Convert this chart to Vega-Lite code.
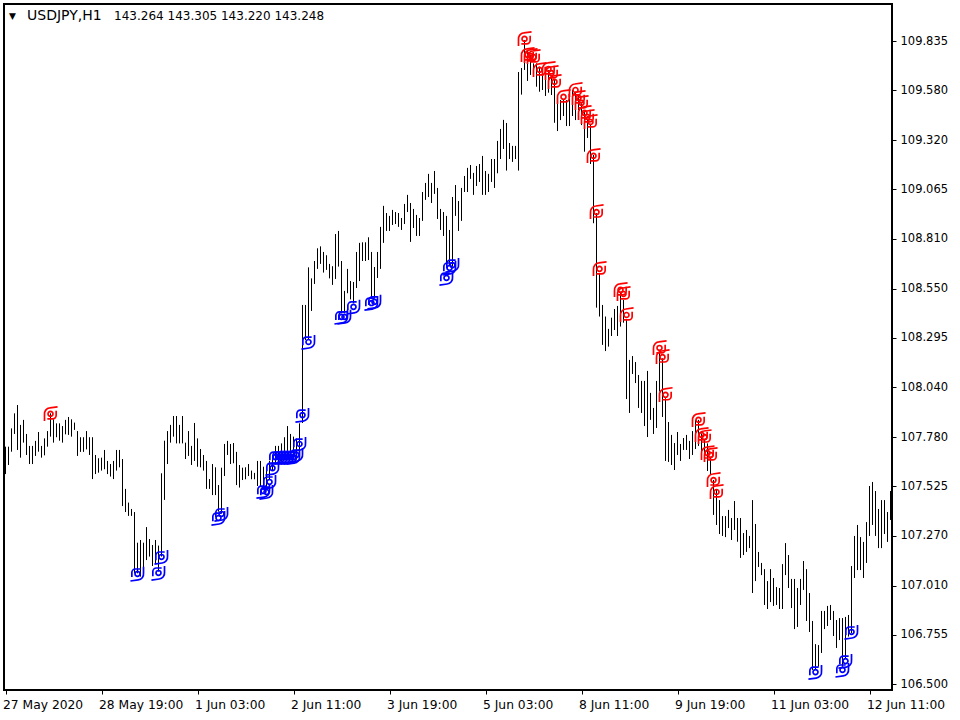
{"$schema":"https://vega.github.io/schema/vega-lite/v6.json","width":888,"height":686,"autosize":{"type":"none"},"padding":{"left":4,"top":4,"right":68,"bottom":30},"background":"#ffffff","config":{"view":{"stroke":"#000000","strokeWidth":2},"axis":{"grid":false,"domain":false,"tickColor":"#000000","tickSize":4,"tickWidth":1,"labelColor":"#000000","labelFont":"DejaVu Sans","labelFontSize":11.5,"title":null}},"datasets":{"bars":[
{"bar":0,"low":107.589,"high":107.731},{"bar":1,"low":107.636,"high":107.731},{"bar":2,"low":107.705,"high":107.826},{"bar":3,"low":107.797,"high":107.904},{"bar":4,"low":107.714,"high":107.947},{"bar":5,"low":107.674,"high":107.844},{"bar":6,"low":107.752,"high":107.87},{"bar":7,"low":107.688,"high":107.797},{"bar":8,"low":107.641,"high":107.735},{"bar":9,"low":107.641,"high":107.735},
{"bar":10,"low":107.683,"high":107.761},{"bar":11,"low":107.705,"high":107.807},{"bar":12,"low":107.674,"high":107.735},{"bar":13,"low":107.686,"high":107.774},{"bar":14,"low":107.731,"high":107.812},{"bar":15,"low":107.783,"high":107.904},{"bar":16,"low":107.752,"high":107.873},{"bar":17,"low":107.78,"high":107.852},{"bar":18,"low":107.762,"high":107.852},{"bar":19,"low":107.752,"high":107.838},
{"bar":20,"low":107.795,"high":107.87},{"bar":21,"low":107.792,"high":107.885},{"bar":22,"low":107.783,"high":107.873},{"bar":23,"low":107.818,"high":107.856},{"bar":24,"low":107.683,"high":107.812},{"bar":25,"low":107.704,"high":107.78},{"bar":26,"low":107.704,"high":107.78},{"bar":27,"low":107.717,"high":107.812},{"bar":28,"low":107.688,"high":107.78},{"bar":29,"low":107.563,"high":107.78},
{"bar":30,"low":107.589,"high":107.688},{"bar":31,"low":107.596,"high":107.671},{"bar":32,"low":107.607,"high":107.674},{"bar":33,"low":107.614,"high":107.714},{"bar":34,"low":107.589,"high":107.657},{"bar":35,"low":107.576,"high":107.641},{"bar":36,"low":107.563,"high":107.657},{"bar":37,"low":107.607,"high":107.714},{"bar":38,"low":107.624,"high":107.714},{"bar":39,"low":107.423,"high":107.667},
{"bar":40,"low":107.392,"high":107.512},{"bar":41,"low":107.372,"high":107.441},{"bar":42,"low":107.372,"high":107.408},{"bar":43,"low":107.074,"high":107.392},{"bar":44,"low":107.074,"high":107.233},{"bar":45,"low":107.057,"high":107.247},{"bar":46,"low":107.091,"high":107.233},{"bar":47,"low":107.143,"high":107.314},{"bar":48,"low":107.161,"high":107.252},{"bar":49,"low":107.112,"high":107.221},
{"bar":50,"low":107.123,"high":107.247},{"bar":51,"low":107.083,"high":107.218},{"bar":52,"low":107.161,"high":107.593},{"bar":53,"low":107.455,"high":107.762},{"bar":54,"low":107.641,"high":107.812},{"bar":55,"low":107.752,"high":107.844},{"bar":56,"low":107.783,"high":107.89},{"bar":57,"low":107.748,"high":107.89},{"bar":58,"low":107.748,"high":107.844},{"bar":59,"low":107.748,"high":107.89},
{"bar":60,"low":107.667,"high":107.752},{"bar":61,"low":107.683,"high":107.812},{"bar":62,"low":107.636,"high":107.735},{"bar":63,"low":107.657,"high":107.854},{"bar":64,"low":107.627,"high":107.774},{"bar":65,"low":107.624,"high":107.719},{"bar":66,"low":107.607,"high":107.688},{"bar":67,"low":107.512,"high":107.657},{"bar":68,"low":107.512,"high":107.563},{"bar":69,"low":107.48,"high":107.641},
{"bar":70,"low":107.48,"high":107.624},{"bar":71,"low":107.394,"high":107.532},{"bar":72,"low":107.385,"high":107.622},{"bar":73,"low":107.579,"high":107.745},{"bar":74,"low":107.688,"high":107.761},{"bar":75,"low":107.641,"high":107.745},{"bar":76,"low":107.645,"high":107.75},{"bar":77,"low":107.532,"high":107.704},{"bar":78,"low":107.519,"high":107.636},{"bar":79,"low":107.558,"high":107.622},
{"bar":80,"low":107.562,"high":107.624},{"bar":81,"low":107.579,"high":107.641},{"bar":82,"low":107.562,"high":107.607},{"bar":83,"low":107.562,"high":107.595},{"bar":84,"low":107.527,"high":107.657},{"bar":85,"low":107.524,"high":107.657},{"bar":86,"low":107.515,"high":107.627},{"bar":87,"low":107.506,"high":107.627},{"bar":88,"low":107.558,"high":107.657},{"bar":89,"low":107.61,"high":107.688},
{"bar":90,"low":107.645,"high":107.735},{"bar":91,"low":107.653,"high":107.735},{"bar":92,"low":107.653,"high":107.748},{"bar":93,"low":107.671,"high":107.78},{"bar":94,"low":107.705,"high":107.838},{"bar":95,"low":107.671,"high":107.797},{"bar":96,"low":107.671,"high":107.783},{"bar":97,"low":107.679,"high":107.774},{"bar":98,"low":107.662,"high":107.852},{"bar":99,"low":107.854,"high":108.466},
{"bar":100,"low":108.284,"high":108.466},{"bar":101,"low":108.284,"high":108.661},{"bar":102,"low":108.435,"high":108.604},{"bar":103,"low":108.575,"high":108.694},{"bar":104,"low":108.653,"high":108.76},{"bar":105,"low":108.679,"high":108.77},{"bar":106,"low":108.634,"high":108.741},{"bar":107,"low":108.648,"high":108.724},{"bar":108,"low":108.604,"high":108.679},{"bar":109,"low":108.57,"high":108.667},
{"bar":110,"low":108.601,"high":108.834},{"bar":111,"low":108.665,"high":108.85},{"bar":112,"low":108.423,"high":108.694},{"bar":113,"low":108.423,"high":108.539},{"bar":114,"low":108.527,"high":108.653},{"bar":115,"low":108.495,"high":108.59},{"bar":116,"low":108.475,"high":108.585},{"bar":117,"low":108.554,"high":108.741},{"bar":118,"low":108.59,"high":108.788},{"bar":119,"low":108.694,"high":108.791},
{"bar":120,"low":108.694,"high":108.791},{"bar":121,"low":108.699,"high":108.817},{"bar":122,"low":108.501,"high":108.741},{"bar":123,"low":108.501,"high":108.663},{"bar":124,"low":108.606,"high":108.741},{"bar":125,"low":108.653,"high":108.871},{"bar":126,"low":108.788,"high":108.98},{"bar":127,"low":108.85,"high":108.943},{"bar":128,"low":108.85,"high":108.928},{"bar":129,"low":108.881,"high":108.959},
{"bar":130,"low":108.886,"high":108.948},{"bar":131,"low":108.871,"high":108.943},{"bar":132,"low":108.855,"high":108.917},{"bar":133,"low":108.886,"high":108.99},{"bar":134,"low":108.948,"high":109.037},{"bar":135,"low":108.793,"high":108.995},{"bar":136,"low":108.865,"high":108.964},{"bar":137,"low":108.824,"high":108.933},{"bar":138,"low":108.824,"high":108.917},{"bar":139,"low":108.902,"high":109.052},
{"bar":140,"low":109.011,"high":109.099},{"bar":141,"low":109.026,"high":109.146},{"bar":142,"low":108.995,"high":109.099},{"bar":143,"low":109.042,"high":109.161},{"bar":144,"low":108.912,"high":109.073},{"bar":145,"low":108.855,"high":108.964},{"bar":146,"low":108.824,"high":108.948},{"bar":147,"low":108.673,"high":108.928},{"bar":148,"low":108.673,"high":108.855},{"bar":149,"low":108.665,"high":109.026},
{"bar":150,"low":108.928,"high":109.088},{"bar":151,"low":108.85,"high":109.005},{"bar":152,"low":108.902,"high":109.073},{"bar":153,"low":109.052,"high":109.135},{"bar":154,"low":109.052,"high":109.177},{"bar":155,"low":109.12,"high":109.192},{"bar":156,"low":109.037,"high":109.151},{"bar":157,"low":109.083,"high":109.187},{"bar":158,"low":109.104,"high":109.197},{"bar":159,"low":109.037,"high":109.239},
{"bar":160,"low":109.037,"high":109.161},{"bar":161,"low":109.052,"high":109.146},{"bar":162,"low":109.104,"high":109.223},{"bar":163,"low":109.073,"high":109.223},{"bar":164,"low":109.149,"high":109.317},{"bar":165,"low":109.223,"high":109.379},{"bar":166,"low":109.275,"high":109.426},{"bar":167,"low":109.163,"high":109.41},{"bar":168,"low":109.223,"high":109.306},{"bar":169,"low":109.208,"high":109.291},
{"bar":170,"low":109.223,"high":109.291},{"bar":171,"low":109.163,"high":109.674},{"bar":172,"low":109.557,"high":109.695},{"bar":173,"low":109.685,"high":109.84},{"bar":174,"low":109.628,"high":109.788},{"bar":175,"low":109.659,"high":109.762},{"bar":176,"low":109.659,"high":109.719},{"bar":177,"low":109.598,"high":109.719},{"bar":178,"low":109.572,"high":109.702},{"bar":179,"low":109.581,"high":109.685},
{"bar":180,"low":109.55,"high":109.685},{"bar":181,"low":109.567,"high":109.685},{"bar":182,"low":109.555,"high":109.65},{"bar":183,"low":109.411,"high":109.633},{"bar":184,"low":109.368,"high":109.538},{"bar":185,"low":109.425,"high":109.529},{"bar":186,"low":109.446,"high":109.529},{"bar":187,"low":109.394,"high":109.529},{"bar":188,"low":109.394,"high":109.555},{"bar":189,"low":109.446,"high":109.581},
{"bar":190,"low":109.425,"high":109.572},{"bar":191,"low":109.477,"high":109.555},{"bar":192,"low":109.399,"high":109.512},{"bar":193,"low":109.261,"high":109.477},{"bar":194,"low":109.332,"high":109.425},{"bar":195,"low":109.197,"high":109.399},{"bar":196,"low":108.89,"high":109.244},{"bar":197,"low":108.452,"high":108.942},{"bar":198,"low":108.406,"high":108.63},{"bar":199,"low":108.259,"high":108.466},
{"bar":200,"low":108.227,"high":108.406},{"bar":201,"low":108.25,"high":108.342},{"bar":202,"low":108.305,"high":108.4},{"bar":203,"low":108.336,"high":108.445},{"bar":204,"low":108.305,"high":108.461},{"bar":205,"low":108.354,"high":108.535},{"bar":206,"low":108.374,"high":108.492},{"bar":207,"low":107.978,"high":108.388},{"bar":208,"low":107.906,"high":108.181},{"bar":209,"low":108.108,"high":108.201},
{"bar":210,"low":108.061,"high":108.17},{"bar":211,"low":107.932,"high":108.103},{"bar":212,"low":107.906,"high":108.072},{"bar":213,"low":107.838,"high":108.072},{"bar":214,"low":107.781,"high":108.124},{"bar":215,"low":107.87,"high":108.01},{"bar":216,"low":107.797,"high":107.932},{"bar":217,"low":107.828,"high":108.072},{"bar":218,"low":108.017,"high":108.233},{"bar":219,"low":107.885,"high":108.189},
{"bar":220,"low":107.657,"high":107.982},{"bar":221,"low":107.652,"high":107.859},{"bar":222,"low":107.636,"high":107.792},{"bar":223,"low":107.61,"high":107.75},{"bar":224,"low":107.688,"high":107.807},{"bar":225,"low":107.657,"high":107.745},{"bar":226,"low":107.714,"high":107.776},{"bar":227,"low":107.714,"high":107.792},{"bar":228,"low":107.667,"high":107.761},{"bar":229,"low":107.688,"high":107.812},
{"bar":230,"low":107.719,"high":107.87},{"bar":231,"low":107.735,"high":107.87},{"bar":232,"low":107.667,"high":107.8},{"bar":233,"low":107.652,"high":107.766},{"bar":234,"low":107.605,"high":107.748},{"bar":235,"low":107.589,"high":107.679},{"bar":236,"low":107.377,"high":107.558},{"bar":237,"low":107.325,"high":107.506},{"bar":238,"low":107.278,"high":107.454},{"bar":239,"low":107.268,"high":107.371},
{"bar":240,"low":107.262,"high":107.371},{"bar":241,"low":107.309,"high":107.403},{"bar":242,"low":107.247,"high":107.361},{"bar":243,"low":107.299,"high":107.449},{"bar":244,"low":107.238,"high":107.361},{"bar":245,"low":107.154,"high":107.361},{"bar":246,"low":107.169,"high":107.283},{"bar":247,"low":107.185,"high":107.299},{"bar":248,"low":107.205,"high":107.268},{"bar":249,"low":106.972,"high":107.454},
{"bar":250,"low":107.034,"high":107.33},{"bar":251,"low":107.107,"high":107.185},{"bar":252,"low":107.065,"high":107.128},{"bar":253,"low":106.91,"high":107.096},{"bar":254,"low":106.889,"high":107.034},{"bar":255,"low":106.925,"high":107.096},{"bar":256,"low":106.905,"high":107.05},{"bar":257,"low":106.91,"high":107.003},{"bar":258,"low":106.889,"high":106.998},{"bar":259,"low":106.889,"high":107.122},
{"bar":260,"low":107.065,"high":107.231},{"bar":261,"low":106.998,"high":107.169},{"bar":262,"low":106.894,"high":107.045},{"bar":263,"low":106.785,"high":107.045},{"bar":264,"low":106.796,"high":106.998},{"bar":265,"low":106.91,"high":107.045},{"bar":266,"low":106.988,"high":107.138},{"bar":267,"low":106.827,"high":107.096},{"bar":268,"low":106.77,"high":106.972},{"bar":269,"low":106.573,"high":106.827},
{"bar":270,"low":106.573,"high":106.707},{"bar":271,"low":106.59,"high":106.702},{"bar":272,"low":106.661,"high":106.879},{"bar":273,"low":106.785,"high":106.879},{"bar":274,"low":106.801,"high":106.905},{"bar":275,"low":106.832,"high":106.91},{"bar":276,"low":106.749,"high":106.879},{"bar":277,"low":106.687,"high":106.832},{"bar":278,"low":106.728,"high":106.842},{"bar":279,"low":106.59,"high":106.842},
{"bar":280,"low":106.633,"high":106.848},{"bar":281,"low":106.746,"high":106.858},{"bar":282,"low":106.763,"high":107.112},{"bar":283,"low":107.05,"high":107.268},{"bar":284,"low":107.091,"high":107.325},{"bar":285,"low":107.091,"high":107.262},{"bar":286,"low":107.05,"high":107.237},{"bar":287,"low":107.128,"high":107.34},{"bar":288,"low":107.268,"high":107.527},{"bar":289,"low":107.325,"high":107.548},
{"bar":290,"low":107.268,"high":107.501},{"bar":291,"low":107.205,"high":107.408},{"bar":292,"low":107.205,"high":107.454},{"bar":293,"low":107.278,"high":107.454},{"bar":294,"low":107.237,"high":107.392},{"bar":295,"low":107.351,"high":107.501}
],"signals":[
{"bar":44,"price":107.071,"side":"buy"},{"bar":51,"price":107.076,"side":"buy"},{"bar":52,"price":107.159,"side":"buy"},{"bar":71,"price":107.361,"side":"buy"},{"bar":72,"price":107.382,"side":"buy"},{"bar":86,"price":107.501,"side":"buy"},{"bar":87,"price":107.496,"side":"buy"},{"bar":88,"price":107.548,"side":"buy"},{"bar":89,"price":107.62,"side":"buy"},{"bar":90,"price":107.677,"side":"buy"},{"bar":91,"price":107.677,"side":"buy"},{"bar":92,"price":107.677,"side":"buy"},{"bar":93,"price":107.677,"side":"buy"},{"bar":94,"price":107.677,"side":"buy"},{"bar":95,"price":107.677,"side":"buy"},{"bar":96,"price":107.677,"side":"buy"},{"bar":97,"price":107.688,"side":"buy"},{"bar":98,"price":107.745,"side":"buy"},{"bar":99,"price":107.895,"side":"buy"},{"bar":101,"price":108.274,"side":"buy"},{"bar":112,"price":108.404,"side":"buy"},{"bar":113,"price":108.404,"side":"buy"},{"bar":116,"price":108.456,"side":"buy"},{"bar":122,"price":108.476,"side":"buy"},{"bar":123,"price":108.482,"side":"buy"},{"bar":147,"price":108.606,"side":"buy"},{"bar":148,"price":108.658,"side":"buy"},{"bar":149,"price":108.673,"side":"buy"},{"bar":270,"price":106.562,"side":"buy"},{"bar":279,"price":106.573,"side":"buy"},{"bar":280,"price":106.619,"side":"buy"},{"bar":282,"price":106.77,"side":"buy"},
{"bar":15,"price":107.901,"side":"sell"},{"bar":173,"price":109.846,"side":"sell"},{"bar":174,"price":109.763,"side":"sell"},{"bar":175,"price":109.758,"side":"sell"},{"bar":176,"price":109.752,"side":"sell"},{"bar":178,"price":109.685,"side":"sell"},{"bar":181,"price":109.69,"side":"sell"},{"bar":182,"price":109.669,"side":"sell"},{"bar":183,"price":109.623,"side":"sell"},{"bar":186,"price":109.545,"side":"sell"},{"bar":190,"price":109.581,"side":"sell"},{"bar":191,"price":109.54,"side":"sell"},{"bar":192,"price":109.514,"side":"sell"},{"bar":193,"price":109.462,"side":"sell"},{"bar":194,"price":109.441,"side":"sell"},{"bar":195,"price":109.415,"side":"sell"},{"bar":196,"price":109.239,"side":"sell"},{"bar":197,"price":108.948,"side":"sell"},{"bar":198,"price":108.653,"side":"sell"},{"bar":205,"price":108.544,"side":"sell"},{"bar":206,"price":108.523,"side":"sell"},{"bar":207,"price":108.414,"side":"sell"},{"bar":218,"price":108.243,"side":"sell"},{"bar":219,"price":108.196,"side":"sell"},{"bar":220,"price":108.0,"side":"sell"},{"bar":231,"price":107.87,"side":"sell"},{"bar":232,"price":107.792,"side":"sell"},{"bar":233,"price":107.781,"side":"sell"},{"bar":234,"price":107.698,"side":"sell"},{"bar":235,"price":107.688,"side":"sell"},{"bar":236,"price":107.558,"side":"sell"},{"bar":237,"price":107.496,"side":"sell"}
]},"layer":[
{"data":{"name":"bars"},"mark":{"type":"rule","stroke":"#000000","strokeWidth":1},"encoding":{"x":{"field":"bar","type":"quantitative","scale":{"domain":[-0.5,295.5],"nice":false,"zero":false},"axis":{"values":[0,32,64,96,128,160,192,224,256,288],"labelExpr":"['27 May 2020','28 May 19:00','1 Jun 03:00','2 Jun 11:00','3 Jun 19:00','5 Jun 03:00','8 Jun 11:00','9 Jun 19:00','11 Jun 03:00','12 Jun 11:00'][datum.value/32]","labelAlign":"left","labelOffset":-3,"labelPadding":4,"labelFontSize":12.3,"labelFlush":false,"labelOverlap":false}},"y":{"field":"low","type":"quantitative","scale":{"domain":[106.469,110.027],"nice":false,"zero":false},"axis":{"orient":"right","values":[106.5,106.755,107.01,107.27,107.525,107.78,108.04,108.295,108.55,108.81,109.065,109.32,109.58,109.835],"format":".3f","labelPadding":4,"labelOverlap":false,"labelFlush":false}},"y2":{"field":"high"}}},
{"data":{"name":"signals"},"mark":{"type":"point","filled":false,"strokeWidth":1.7,"opacity":1},"encoding":{"x":{"field":"bar","type":"quantitative"},"y":{"field":"price","type":"quantitative"},"size":{"value":200},"color":{"field":"side","type":"nominal","scale":{"domain":["buy","sell"],"range":["#0000ff","#ff0000"]},"legend":null},"shape":{"field":"side","type":"nominal","scale":{"domain":["buy","sell"],"range":["M.85 -1L.85 -.1A.85 .85 0 0 1 .1 .85L-1 1M-.8 .45L-.8 -.2A.5 .5 0 0 1 -.3 -.7L.45 -.7M-.35 0A.35 .35 0 1 1 .35 0A.35 .35 0 1 1 -.35 0","M-.85 1L-.85 .1A.85 .85 0 0 1 -.1 -.85L1 -1M.8 -.45L.8 .2A.5 .5 0 0 1 .3 .7L-.45 .7M-.35 0A.35 .35 0 1 1 .35 0A.35 .35 0 1 1 -.35 0"]},"legend":null}}},
{"data":{"values":[{"bar":1.2,"price":109.967,"label":"▼"}]},"mark":{"type":"text","font":"DejaVu Sans","fontSize":9,"align":"left","baseline":"middle","color":"#000000"},"encoding":{"x":{"field":"bar","type":"quantitative"},"y":{"field":"price","type":"quantitative"},"text":{"field":"label"}}},
{"data":{"values":[{"bar":7.17,"price":109.965,"label":"USDJPY,H1"}]},"mark":{"type":"text","font":"DejaVu Sans","fontSize":14,"align":"left","baseline":"middle","color":"#000000"},"encoding":{"x":{"field":"bar","type":"quantitative"},"y":{"field":"price","type":"quantitative"},"text":{"field":"label"}}},
{"data":{"values":[{"bar":36.2,"price":109.965,"label":"143.264 143.305 143.220 143.248"}]},"mark":{"type":"text","font":"DejaVu Sans","fontSize":12,"align":"left","baseline":"middle","color":"#000000"},"encoding":{"x":{"field":"bar","type":"quantitative"},"y":{"field":"price","type":"quantitative"},"text":{"field":"label"}}}
]}
